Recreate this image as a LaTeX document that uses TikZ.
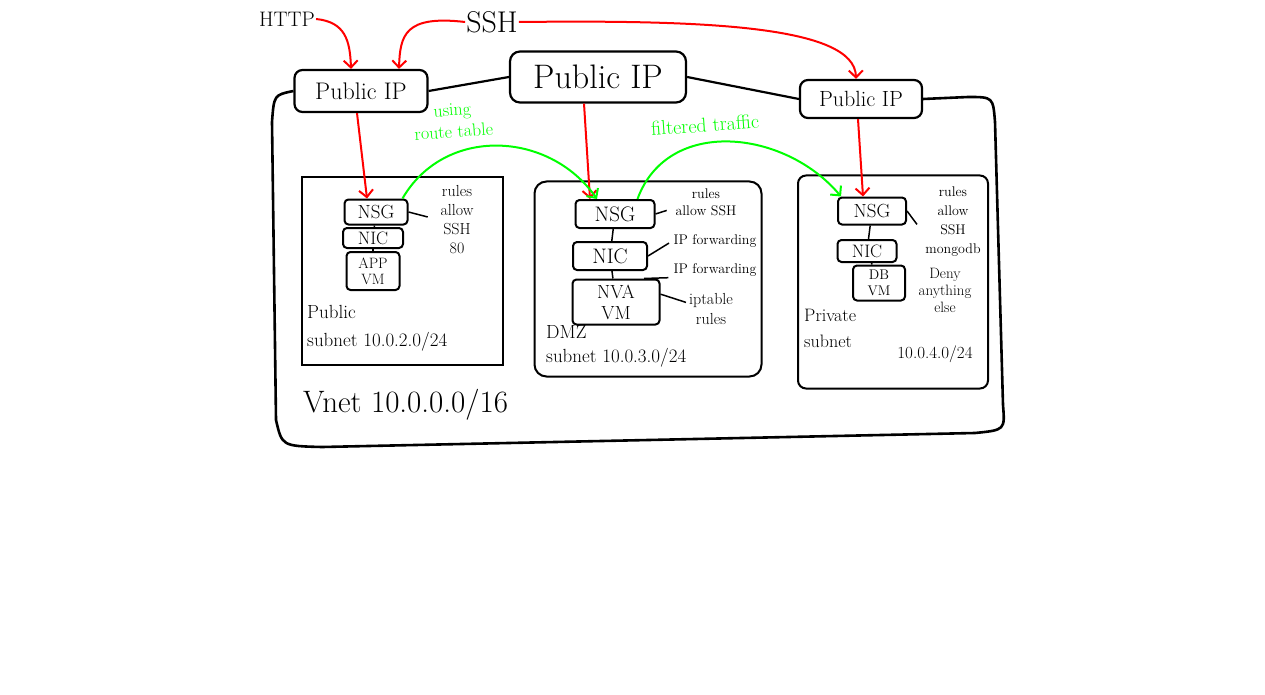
\documentclass[tikz,border=0pt]{standalone}
\usetikzlibrary{arrows.meta}
\newcommand{\fsz}[2]{\fontsize{#1}{#2}\selectfont}

\begin{document}
\begin{tikzpicture}[
  x=1pt, y=-1pt,
  every node/.style={inner sep=1pt},
  ipbox/.style={draw,rounded corners=8pt,line width=2.2pt,inner sep=0pt},
  subnetbox/.style={draw,line width=2pt,inner sep=0pt},
  partbox/.style={draw,rounded corners=4pt,line width=2pt,inner sep=0pt,align=center},
  note/.style={align=center,font=\fsz{14}{17}},
  sublabel/.style={align=left,anchor=north west},
  wire/.style={line width=1.5pt},
  redarr/.style={draw=red,line width=2pt},
  greenarr/.style={draw=green,line width=2pt},
  >={Straight Barb[length=7pt,width=14pt]},
  ]
  \useasboundingbox (0,0) rectangle (1265,695);
  % sources
  \node[font=\fsz{21}{24}] (http) at (287,19) {HTTP};
  \node[font=\fsz{30}{34}] (ssh) at (492,22) {SSH};
  % public ips
  \node[ipbox,minimum width=133pt,minimum height=42pt,font=\fsz{24}{28}] (pipl) at (361,91) {Public IP};
  \node[ipbox,rounded corners=10pt,minimum width=176pt,minimum height=51pt,font=\fsz{34}{38}] (pipc) at (598,77) {Public IP};
  \node[ipbox,minimum width=122pt,minimum height=38pt,font=\fsz{22}{26}] (pipr) at (861,99) {Public IP};
  % vnet border
  \draw[line width=2.6pt]
  (pipl.west) .. controls (274,95) .. (272,122) -- (276,420)
  .. controls (282,446) .. (322,447) -- (975,433)
  .. controls (1005,430) .. (1003,405) -- (995,122)
  .. controls (993,97) .. (968,97) -- (pipr.east);
  \draw[line width=2.2pt] (pipl.east) -- (pipc.west);
  \draw[line width=2.2pt] (pipc.east) -- (pipr.west);
  \node[font=\fsz{31}{34},anchor=west] (vnlb) at (302,405) {Vnet 10.0.0.0/16};
  % public subnet
  \node[subnetbox,minimum width=201pt,minimum height=187pt] (psub) at (402,271) {};
  \node[partbox,minimum width=63pt,minimum height=25pt,font=\fsz{19}{20}] (pnsg) at (376,212) {NSG};
  \node[partbox,minimum width=60pt,minimum height=20pt,font=\fsz{18}{20}] (pnic) at (373,238) {NIC};
  \node[partbox,minimum width=53pt,minimum height=38pt,font=\fsz{15}{16}] (pvm) at (373,271) {APP\\VM};
  \node[note,font=\fsz{16}{19}] (prul) at (457,220) {rules\\allow\\SSH\\80};
  \node[sublabel,font=\fsz{19}{28}] (plb) at (306,304) {Public\\subnet 10.0.2.0/24};
  % dmz subnet
  \node[subnetbox,rounded corners=12pt,minimum width=227pt,minimum height=195pt] (dsub) at (648,279) {};
  \node[partbox,minimum width=79pt,minimum height=28pt,font=\fsz{21}{22}] (dnsg) at (615,214) {NSG};
  \node[partbox,minimum width=74pt,minimum height=28pt,font=\fsz{21}{22}] (dnic) at (610,256) {NIC};
  \node[partbox,minimum width=87pt,minimum height=45pt,font=\fsz{19}{21}] (dvm) at (616,302) {NVA\\VM};
  \node[note] (drul) at (706,202) {rules\\allow SSH};
  \node[note] (dfw1) at (715,241) {IP forwarding};
  \node[note] (dfw2) at (715,270) {IP forwarding};
  \node[note,font=\fsz{16}{20}] (dipt) at (711,309) {iptable\\rules};
  \node[sublabel,font=\fsz{19}{24}] (dlb) at (545,324) {DMZ\\subnet 10.0.3.0/24};
  % private subnet
  \node[subnetbox,rounded corners=8pt,minimum width=190pt,minimum height=213pt] (rsub) at (893,282) {};
  \node[partbox,minimum width=68pt,minimum height=27pt,font=\fsz{19}{20}] (rnsg) at (872,211) {NSG};
  \node[partbox,minimum width=59pt,minimum height=22pt,font=\fsz{18}{19}] (rnic) at (867,251) {NIC};
  \node[partbox,minimum width=52pt,minimum height=35pt,font=\fsz{14}{16}] (rvm) at (879,283) {DB\\VM};
  \node[note,font=\fsz{14}{19}] (rrul) at (953,222) {rules\\allow\\SSH\\mongodb};
  \node[note,font=\fsz{15}{17}] (rdny) at (945,290) {Deny\\anything\\else};
  \node[sublabel,font=\fsz{18}{26}] (rlb) at (803,308) {Private\\subnet};
  \node[font=\fsz{17}{18}] (rnet) at (935,354) {10.0.4.0/24};
  % green labels
  \node[font=\fsz{18}{22},text=green,align=center,rotate=4] (glb1) at (453,121) {using\\route table};
  \node[font=\fsz{20}{22},text=green,rotate=4] (glb2) at (705,125) {filtered traffic};
  % links
  \path[draw,wire]
  (pnsg) edge (pnic)
  (pnic) edge (pvm)
  (dnsg) edge (dnic)
  (dnic) edge (dvm)
  (rnsg) edge (rnic)
  (rnic) edge (rvm)
  (pnsg.east) edge[shorten >=12pt] (prul.west)
  (dnsg.east) edge[shorten >=8pt] ([yshift=-6pt]drul.west)
  (dnic.east) edge[shorten >=4pt] (dfw1.west)
  (dvm.40) edge[shorten >=4pt] (dfw2.south west)
  (dvm.10) edge[shorten >=2pt] ([yshift=6pt]dipt.west)
  (rnsg.east) edge[shorten >=12pt] ([yshift=-12pt]rrul.west);
  % traffic
  \draw[redarr,->] (http.east) .. controls (345,22) and (350,40) .. ([xshift=-10pt]pipl.north);
  \draw[redarr,->] (ssh.west) .. controls (405,15) and (400,35) .. ([xshift=38pt]pipl.north);
  \draw[redarr,->] (ssh.east) .. controls (700,20) and (855,25) .. ([xshift=-5pt]pipr.north);
  \path[redarr]
  ([xshift=-4pt]pipl.south) edge[->] ([xshift=-9pt]pnsg.north)
  ([xshift=-14pt]pipc.south) edge[->] ([xshift=-25pt]dnsg.north)
  ([xshift=-3pt]pipr.south) edge[->] ([xshift=-9pt]rnsg.north);
  \path[greenarr]
  ([xshift=-6pt]pnsg.north east) edge[->,out=60,in=125,looseness=1.1] ([xshift=-18pt]dnsg.north)
  ([xshift=-18pt]dnsg.north east) edge[->,out=70,in=130,looseness=1.1] ([xshift=4pt]rnsg.north west);
\end{tikzpicture}
\end{document}
